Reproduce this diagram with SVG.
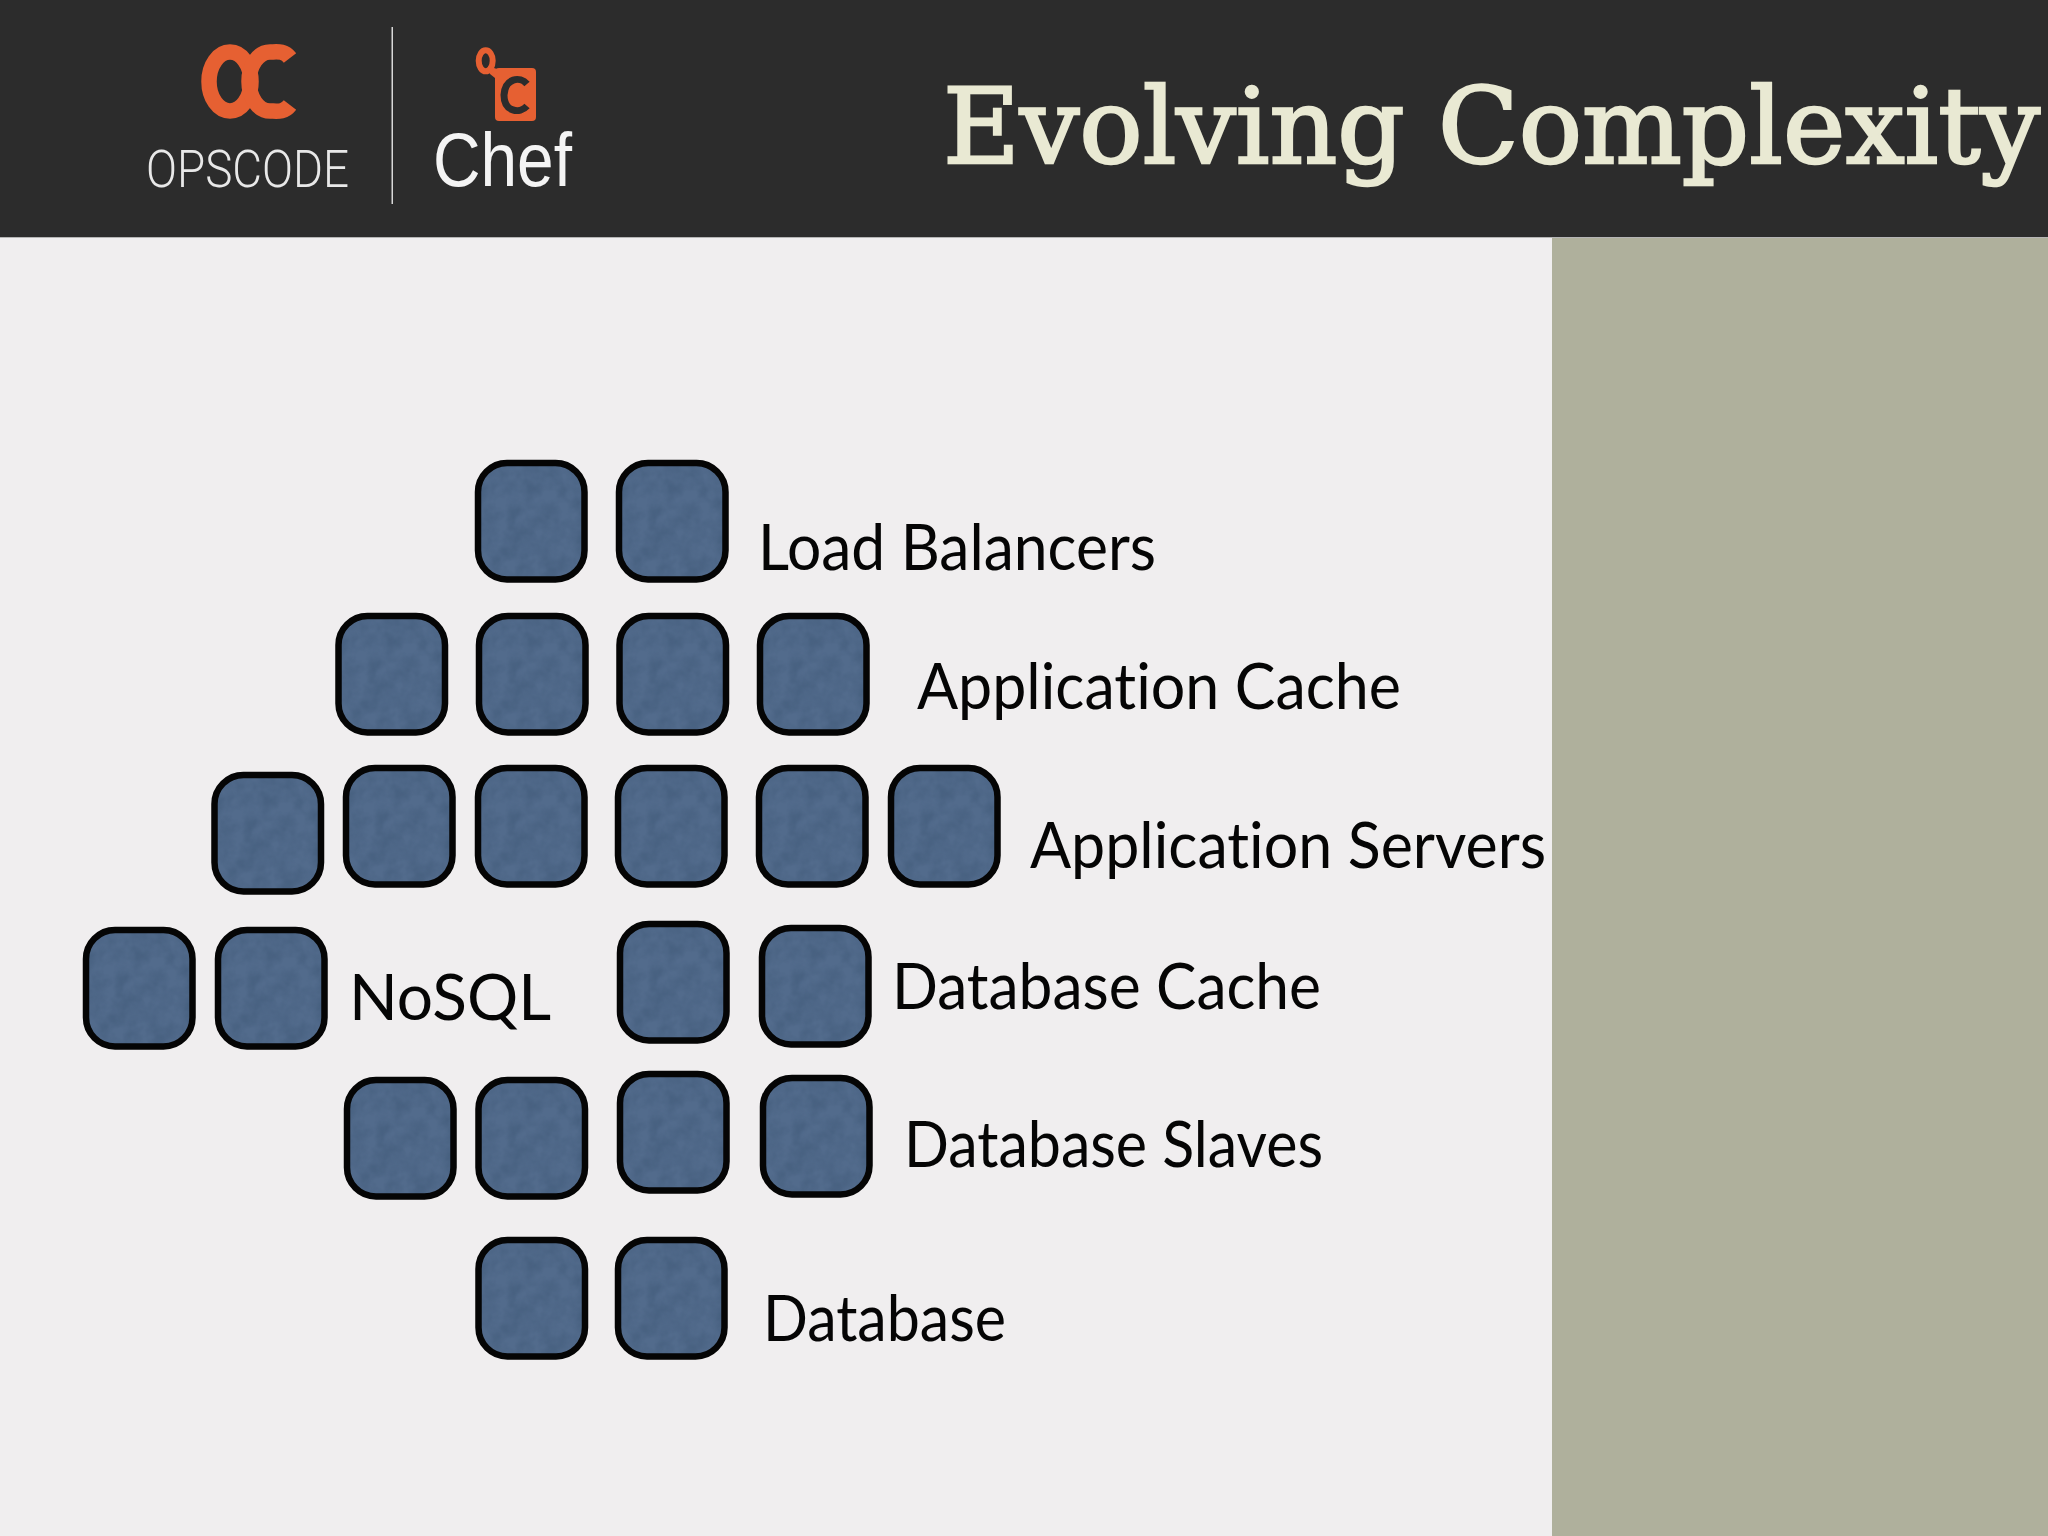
<svg xmlns="http://www.w3.org/2000/svg" xmlns:xlink="http://www.w3.org/1999/xlink" width="2048" height="1536" viewBox="0 0 2048 1536">
<style>
.lab{font-family:"Lato","Noto Sans",sans-serif;font-size:63px;fill:#050505;font-variant-ligatures:none}
.org{fill:none;stroke:#e66032}
</style>
<defs>
<filter id="tex" x="0" y="0" width="1" height="1" color-interpolation-filters="sRGB">
<feTurbulence type="fractalNoise" baseFrequency="0.06" numOctaves="3" seed="4"/>
<feColorMatrix type="matrix" values="0 0 0 0 0.25  0 0 0 0 0.35  0 0 0 0 0.47  0.8 0.8 0 0 -0.6"/>
<feComposite in2="SourceGraphic" operator="in" result="n"/>
<feMerge><feMergeNode in="SourceGraphic"/><feMergeNode in="n"/></feMerge>
</filter>
<g id="box">
<rect x="3" y="3" width="106.500" height="116.500" rx="29" fill="#526b8c" filter="url(#tex)"/>
<rect x="3" y="3" width="106.500" height="116.500" rx="29" fill="none" stroke="#050505" stroke-width="6.500"/>
</g>
</defs>
<rect id="bg" width="2048" height="1536" fill="#f0eeef"/>
<rect id="panel" x="1552" y="237" width="496" height="1299" fill="#afb09c"/>
<rect id="header" width="2048" height="237" fill="#2c2c2c"/>
<rect id="header-edge" y="237" width="2048" height="1" fill="#b5b5b5"/>
<g id="logo-opscode">
<ellipse class="org" cx="230" cy="81.500" rx="21" ry="29.500" stroke-width="15.500"/>
<path class="org" d="M290 58C284 50 276 52 270 52C258 52 249 66 249 81.500C249 97 258 111 270 111C276 111 284 113 290 105" stroke-width="15.500"/>
<text x="146" y="187" font-family="Roboto,sans-serif" font-weight="300" font-size="51" fill="#e8e8e8" textLength="203" lengthAdjust="spacingAndGlyphs">OPSCODE</text>
</g>
<rect id="divider" x="391.500" y="27" width="1.500" height="177" fill="#d8d8d8"/>
<g id="logo-chef">
<path d="M488 66L500 70L500 82L490 74Z" fill="#e66032"/>
<ellipse class="org" cx="485.700" cy="60.800" rx="7" ry="10.500" stroke-width="6"/>
<rect x="495" y="68" width="41" height="53" rx="4" fill="#e66032"/>
<path d="M527 84C520 76 505 78 504 95C504 112 520 114 527 106" fill="none" stroke="#2c2c2c" stroke-width="7"/>
<text x="433" y="186" font-family="Liberation Sans,sans-serif" font-size="76" fill="#f4f4f4" textLength="139" lengthAdjust="spacingAndGlyphs">Chef</text>
</g>
<text id="title" x="943" y="162.500" font-family="DejaVu Serif,serif" font-size="105" fill="#e9e9d3" stroke="#e9e9d3" stroke-width="2.500" textLength="1097" lengthAdjust="spacingAndGlyphs">Evolving Complexity</text>
<g id="load-balancers">
<use id="lb1" xlink:href="#box" x="475" y="460"/><use id="lb2" xlink:href="#box" x="616" y="460"/>
<text class="lab" x="758" y="570" textLength="398" lengthAdjust="spacingAndGlyphs">Load Balancers</text>
</g>
<g id="application-cache">
<use xlink:href="#box" x="335.500" y="613"/><use xlink:href="#box" x="476" y="613"/><use xlink:href="#box" x="616.500" y="613"/><use xlink:href="#box" x="757" y="613"/>
<text class="lab" x="917" y="709" textLength="484" lengthAdjust="spacingAndGlyphs">Application Cache</text>
</g>
<g id="application-servers">
<use xlink:href="#box" x="211.500" y="772"/><use xlink:href="#box" x="343" y="765"/><use xlink:href="#box" x="475" y="765"/><use xlink:href="#box" x="615" y="765"/><use xlink:href="#box" x="756" y="765"/><use xlink:href="#box" x="888" y="765"/>
<text class="lab" x="1030" y="868" textLength="516" lengthAdjust="spacingAndGlyphs">Application Servers</text>
</g>
<g id="nosql">
<use xlink:href="#box" x="83" y="927"/><use xlink:href="#box" x="215" y="927"/>
<text class="lab" x="349" y="1020" textLength="202" lengthAdjust="spacingAndGlyphs">NoSQL</text>
</g>
<g id="database-cache">
<use xlink:href="#box" x="617" y="921"/><use xlink:href="#box" x="759" y="925"/>
<text class="lab" x="892" y="1009" textLength="429" lengthAdjust="spacingAndGlyphs">Database Cache</text>
</g>
<g id="database-slaves">
<use xlink:href="#box" x="344" y="1077"/><use xlink:href="#box" x="475.500" y="1077"/><use xlink:href="#box" x="617" y="1071"/><use xlink:href="#box" x="760" y="1075"/>
<text class="lab" x="904" y="1167" textLength="419" lengthAdjust="spacingAndGlyphs">Database Slaves</text>
</g>
<g id="database">
<use xlink:href="#box" x="475.500" y="1237"/><use xlink:href="#box" x="615" y="1237"/>
<text class="lab" x="763" y="1341" textLength="243" lengthAdjust="spacingAndGlyphs">Database</text>
</g>
</svg>
